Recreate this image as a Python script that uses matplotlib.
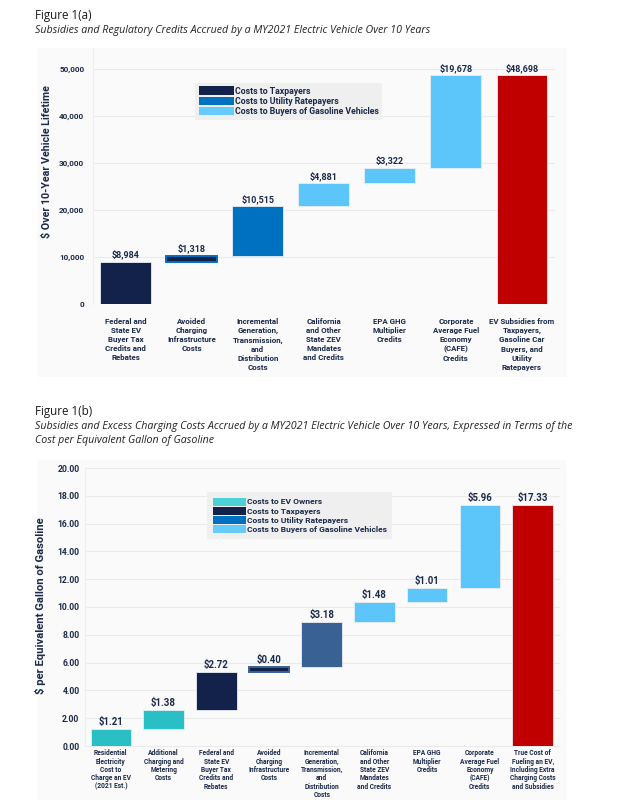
import numpy as np
import matplotlib
matplotlib.use("Agg")
import matplotlib.pyplot as plt
from matplotlib.patches import Patch, Rectangle

# ---- data: Figure 1(a) ----
cats_a = [
    "Federal and\nState EV\nBuyer Tax\nCredits and\nRebates",
    "Avoided\nCharging\nInfrastructure\nCosts",
    "Incremental\nGeneration,\nTransmission,\nand\nDistribution\nCosts",
    "California\nand Other\nState ZEV\nMandates\nand Credits",
    "EPA GHG\nMultiplier\nCredits",
    "Corporate\nAverage Fuel\nEconomy\n(CAFE)\nCredits",
    "EV Subsidies from\nTaxpayers,\nGasoline Car\nBuyers, and\nUtility\nRatepayers",
]
steps_a = [8984, 1318, 10515, 4881, 3322, 19678]
total_a = 48698
payer_a = ["tax", "mixed", "util", "gas", "gas", "gas", "total"]

# ---- data: Figure 1(b) ----
cats_b = [
    "Residential\nElectricity\nCost to\nCharge an EV\n(2021 Est.)",
    "Additional\nCharging and\nMetering\nCosts",
    "Federal and\nState EV\nBuyer Tax\nCredits and\nRebates",
    "Avoided\nCharging\nInfrastructure\nCosts",
    "Incremental\nGeneration,\nTransmission,\nand\nDistribution\nCosts",
    "California\nand Other\nState ZEV\nMandates\nand Credits",
    "EPA GHG\nMultiplier\nCredits",
    "Corporate\nAverage Fuel\nEconomy\n(CAFE)\nCredits",
    "True Cost of\nFueling an EV,\nIncluding Extra\nCharging Costs\nand Subsidies",
]
steps_b = [1.21, 1.38, 2.72, 0.40, 3.18, 1.48, 1.01, 5.96]
total_b = 17.33
payer_b = ["owner", "owner", "tax", "mixed", "util", "gas", "gas", "gas", "total"]

NAVY = "#12224A"
TXT = "#1B2A4A"
fills = {"tax": NAVY, "mixed": NAVY, "util": "#0070C0", "gas": "#5CC5FA",
         "total": "#C00000", "owner": "#29BFC5"}

W, H = 623, 800
fig = plt.figure(figsize=(W / 100, H / 100), dpi=100)
fig.patch.set_facecolor("white")

TICKFONT = ["Roboto", "DejaVu Sans"]
TITLEFONT = ["Open Sans", "DejaVu Sans"]


def px_axes(l, r, t, b):
    return fig.add_axes([l / W, 1 - b / H, (r - l) / W, (b - t) / H])


def panel(l, r, t, b):
    fig.patches.append(Rectangle((l / W, 1 - b / H), (r - l) / W, (b - t) / H,
                                 transform=fig.transFigure, facecolor="#FAFAFA",
                                 edgecolor="none", zorder=-5))


def waterfall(ax, steps, total, payers, colors, fmt, lblsize):
    vals = list(steps) + [total]
    bottoms = list(np.concatenate([[0], np.cumsum(steps)[:-1]])) + [0]
    x = np.arange(len(vals))
    for i in range(len(vals)):
        p = payers[i]
        if p == "mixed":
            ax.bar(x[i], vals[i], bottom=bottoms[i], width=0.77, color=colors["tax"],
                   edgecolor=colors["mixed_edge"], linewidth=1.4, zorder=3)
        else:
            ax.bar(x[i], vals[i], bottom=bottoms[i], width=0.77, color=colors[p],
                   edgecolor="#E8EEF4", linewidth=0.6, zorder=3)
        ax.annotate(fmt(vals[i]), (x[i], bottoms[i] + vals[i]), xytext=(0, 1.5),
                    textcoords="offset points", ha="center", va="bottom",
                    fontsize=lblsize, fontweight="bold", color=TXT, family=TICKFONT)
    return x


def style(ax, ticksize, ypad, xpad, xsize):
    for s in ["top", "right", "bottom"]:
        ax.spines[s].set_visible(False)
    ax.spines["left"].set_color("#EEEEEE")
    ax.set_facecolor("none")
    ax.grid(axis="y", color="#EAEAEA", linewidth=0.8, zorder=0)
    ax.set_axisbelow(True)
    ax.tick_params(axis="both", length=0)
    ax.tick_params(axis="y", pad=ypad, labelsize=ticksize, labelcolor=TXT)
    ax.tick_params(axis="x", pad=xpad, labelsize=xsize, labelcolor=TXT)
    for t in ax.get_yticklabels() + ax.get_xticklabels():
        t.set_fontweight("bold")
        t.set_family(TICKFONT)


# ================= Figure 1(a) =================
fig.text(35 / W, 1 - 16 / H, "Figure 1(a)", fontsize=8.4, color="#1A1A1A",
         family=TITLEFONT, fontweight="medium", va="center", ha="left")
fig.text(35 / W, 1 - 31 / H,
         "Subsidies and Regulatory Credits Accrued by a MY2021 Electric Vehicle Over 10 Years",
         fontsize=7.7, style="italic", color="#222222", family=TITLEFONT, va="center")
panel(37, 567, 48, 377)

ax1 = px_axes(92.6, 555, 48, 304)
col_a = dict(fills, mixed_edge="#0070C0")
xa = waterfall(ax1, steps_a, total_a, payer_a, col_a, lambda v: f"${v:,.0f}", 6.5)
ax1.set_xlim(-0.5, 6.5)
ax1.set_ylim(0, 54468)
ax1.set_yticks(range(0, 50001, 10000))
ax1.set_yticklabels([f"{v:,}" for v in range(0, 50001, 10000)])
ax1.set_xticks(xa)
ax1.set_xticklabels(cats_a, linespacing=1.35)
style(ax1, 5.9, 6.0, 10, 5.7)
ax1.set_ylabel("$ Over 10-Year Vehicle Lifetime", fontsize=7.7, fontweight="bold",
               color=TXT, family=TICKFONT)
ax1.yaxis.set_label_coords(52 / W, 1 - 162 / H, transform=fig.transFigure)

leg_a = [Patch(facecolor=NAVY, label="Costs to Taxpayers"),
         Patch(facecolor="#0070C0", label="Costs to Utility Ratepayers"),
         Patch(facecolor="#66CCFF", label="Costs to Buyers of Gasoline Vehicles")]
la = fig.legend(handles=leg_a, loc="upper left", bbox_to_anchor=(195 / W, 1 - 83 / H),
                bbox_transform=fig.transFigure, borderaxespad=0, frameon=True,
                facecolor="#EFEFEF", edgecolor="none", fancybox=False, framealpha=1,
                prop={"family": TICKFONT, "weight": "bold", "size": 6.3},
                handlelength=4.0, handleheight=1.1, handletextpad=0.12,
                labelspacing=0.12, borderpad=0.4, labelcolor=TXT)

# ================= Figure 1(b) =================
fig.text(35 / W, 1 - 412 / H, "Figure 1(b)", fontsize=8.4, color="#1A1A1A",
         family=TITLEFONT, fontweight="medium", va="center", ha="left")
fig.text(35 / W, 1 - 426 / H,
         "Subsidies and Excess Charging Costs Accrued by a MY2021 Electric Vehicle Over 10 Years, "
         "Expressed in Terms of the",
         fontsize=7.7, style="italic", color="#222222", family=TITLEFONT, va="center")
fig.text(35 / W, 1 - 441 / H, "Cost per Equivalent Gallon of Gasoline",
         fontsize=7.7, style="italic", color="#222222", family=TITLEFONT, va="center")
panel(37, 567, 460, 800)

ax2 = px_axes(84.5, 559, 468, 746)
col_b = dict(fills, util="#3A6193", mixed_edge="#3A6193")
xb = waterfall(ax2, steps_b, total_b, payer_b, col_b, lambda v: f"${v:.2f}", 6.9)
ax2.set_xlim(-0.5, 8.5)
ax2.set_ylim(0, 20)
ax2.set_yticks(np.arange(0, 20.01, 2))
ax2.set_yticklabels([f"{v:.2f}" for v in np.arange(0, 20.01, 2)])
ax2.set_xticks(xb)
ax2.set_xticklabels(cats_b, linespacing=1.05)
style(ax2, 6.2, 3.6, 2.5, 4.8)
for gl in ax2.get_ygridlines():
    gl.set_clip_on(False)
ax2.set_ylabel("$ per Equivalent Gallon of Gasoline", fontsize=8.1, fontweight="bold",
               color=TXT, family=TICKFONT)
ax2.yaxis.set_label_coords(46 / W, 1 - 606 / H, transform=fig.transFigure)

leg_b = [Patch(facecolor="#4DD0D6", label="Costs to EV Owners"),
         Patch(facecolor=NAVY, label="Costs to Taxpayers"),
         Patch(facecolor="#0070C0", label="Costs to Utility Ratepayers"),
         Patch(facecolor="#66CCFF", label="Costs to Buyers of Gasoline Vehicles")]
lb = fig.legend(handles=leg_b, loc="upper left", bbox_to_anchor=(207 / W, 1 - 492 / H),
                bbox_transform=fig.transFigure, borderaxespad=0, frameon=True,
                facecolor="#EFEFEF", edgecolor="none", fancybox=False, framealpha=1,
                prop={"family": TICKFONT, "weight": "bold", "size": 6.1},
                handlelength=3.95, handleheight=1.1, handletextpad=0.12,
                labelspacing=0.12, borderpad=0.65, labelcolor=TXT)

fig.savefig("out.png", dpi=100, facecolor="white")
